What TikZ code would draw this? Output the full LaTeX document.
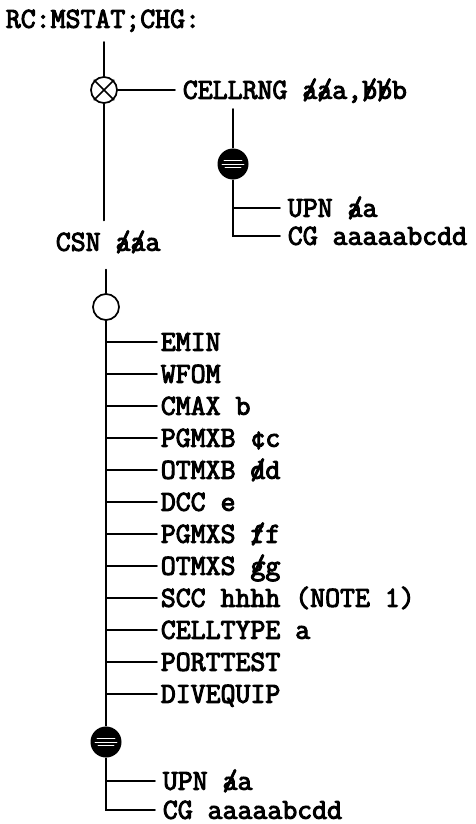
\documentclass[tikz,border=0pt]{standalone}
\usepackage{fontspec}
\newfontfamily\listfont[FakeBold=3.5]{Latin Modern Mono}
\newcommand\strk[1]{\ooalign{#1\cr\hidewidth/\hidewidth}}
\begin{document}
\begin{tikzpicture}[x=1pt, y=-1pt, line width=1.7pt, line cap=round]
                \def\gap{32}\def\tick{3pt}
                \tikzset{lbl/.style={anchor=west,inner sep=0pt,text height=17.5pt,text depth=0pt,font=\listfont\fontsize{29}{29}\selectfont},
                    ring/.style={draw,circle,minimum size=26pt,inner sep=0pt},
                    blob/.style={circle,fill=black,minimum size=31pt,inner sep=0pt,
                        path picture={\foreach \dy/\w in {4/9,0/11,-3/8}{
                            \draw[white,line width=0.7pt]([shift={(-\w pt,\dy pt)}]path picture bounding box.center)--++({2*\w},0);}}}}
                \useasboundingbox (0,0) rectangle (476,824);
                
                \path(5,19)node[lbl](head){RC:MSTAT;CHG:}
                (104,42)coordinate(top) (104,90)node[ring](X){}
                (182,90)node[lbl](rng){CELLRNG \strk{a}\strk{a}a,\strk{b}\strk{b}b}
                (233,109)coordinate(rngtop) (233,164)node[blob](F1){}
                (287,208)node[lbl](upn1){UPN \strk{a}a}
                (287,236)node[lbl](cg1){CG aaaaabcdd}
                (55,242)node[lbl](csn){CSN \strk{a}\strk{a}a}
                (106,307)node[ring](O){}
                (106,742)node[blob](F2){}
                (162,781)node[lbl](upn2){UPN \strk{a}a}
                (162,810)node[lbl](cg2){CG aaaaabcdd};
                \draw (X.north west)--(X.south east) (X.north east)--(X.south west);
                
                \foreach \txt [count=\i from 0] in {EMIN,WFOM,CMAX b,PGMXB ¢c,OTMXB \strk{d}d,DCC e,PGMXS \strk{f}f,OTMXS \strk{g}g,SCC hhhh (NOTE 1),CELLTYPE a,PORTTEST,DIVEQUIP}{
                    \node[lbl](it\i) at (160,342+\gap*\i){\txt};
                    \draw (O.south|-it\i.west)--([xshift=-\tick]it\i.west);	}
                
                \draw (top)--(X.north) (X.east)--([xshift=-7pt]rng.west)
                (X.south)--([yshift=12pt]X|-csn.north) ([yshift=-18pt]O|-csn.south)--(O.north)
                (O.south)--(F2.north);
                \draw (rngtop)--(F1.north) (F1.south)--(F1|-cg1.west)--([xshift=-7pt]cg1.west)
                (F1|-upn1.west)--([xshift=-7pt]upn1.west);
                \draw (F2.south)--(F2|-cg2.west)--([xshift=-7pt]cg2.west)
                (F2|-upn2.west)--([xshift=-7pt]upn2.west);
            \end{tikzpicture}
\end{document}
